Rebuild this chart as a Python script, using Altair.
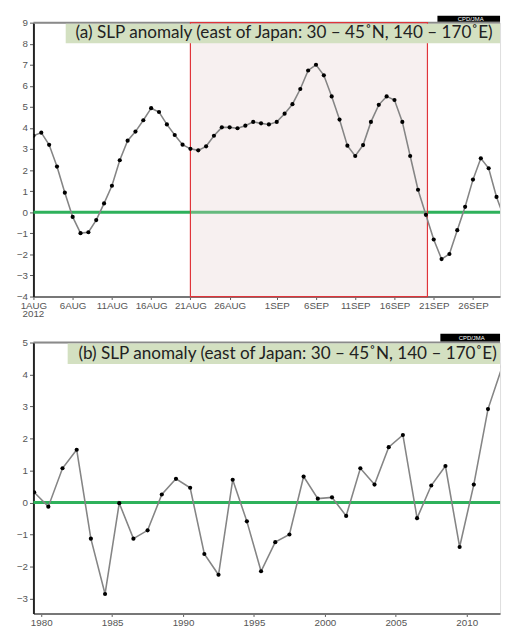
import altair as alt
import pandas as pd

# ---------------- data: panel (a) daily SLP anomaly, 1 Aug 2012 onward ----------------
day_index = list(range(61))  # days since 1 Aug 2012
slp_daily = [3.63, 3.78, 3.2, 2.17, 0.93, -0.22, -0.99, -0.95, -0.37, 0.42,
             1.26, 2.47, 3.40, 3.83, 4.37, 4.94, 4.76, 4.17, 3.67, 3.21,
             3.01, 2.94, 3.13, 3.63, 4.03, 4.03, 3.99, 4.11, 4.29, 4.22,
             4.17, 4.29, 4.68, 5.13, 5.85, 6.73, 7.0, 6.5, 5.5, 4.4,
             3.16, 2.67, 3.19, 4.29, 5.1, 5.5, 5.33, 4.29, 2.67, 1.07,
             -0.12, -1.29, -2.22, -1.98, -0.85, 0.26, 1.55, 2.56, 2.09, 0.73, -0.3]
tick_days = [0, 5, 10, 15, 20, 25, 31, 36, 41, 46, 51, 56]
tick_labels = ["1AUG", "6AUG", "11AUG", "16AUG", "21AUG", "26AUG",
               "1SEP", "6SEP", "11SEP", "16SEP", "21SEP", "26SEP"]
period_start = [20]
period_end = [50.2]

# ---------------- data: panel (b) yearly SLP anomaly ----------------
years = list(range(1979, 2013))
slp_annual = [0.32, -0.13, 1.07, 1.65, -1.13, -2.86, -0.02, -1.13, -0.87, 0.25,
              0.74, 0.46, -1.61, -2.26, 0.71, -0.59, -2.15, -1.24, -1.0, 0.81,
              0.12, 0.16, -0.42, 1.07, 0.56, 1.73, 2.11, -0.49, 0.53, 1.14,
              -1.39, 0.56, 2.92, 4.24]
year_ticks = [1980, 1985, 1990, 1995, 2000, 2005, 2010]

title_a = "(a) SLP anomaly (east of Japan: 30 – 45˚N, 140 – 170˚E)"
title_b = "(b) SLP anomaly (east of Japan: 30 – 45˚N, 140 – 170˚E)"
credit = "CPD/JMA"

df_a = pd.DataFrame({"day": day_index, "slp": slp_daily})
df_b = pd.DataFrame({"year": years, "slp": slp_annual})
df_box = pd.DataFrame({"day": period_start, "day2": period_end})

W = 477
H_A = 280
H_B = 277
LABEL_FONT = "Liberation Sans"
TITLE_FONT = "Lato"
GREEN = "#2eb15b"
LINE_GRAY = "#858585"

one = alt.Data(values=[{"a": 1}])

label_expr = ("[" + ",".join(f"'{l}'" for l in tick_labels) + "][indexof(["
              + ",".join(str(d) for d in tick_days) + "], datum.value)]")

axis_common = dict(labelFont=LABEL_FONT, labelFontSize=10, labelColor="#555",
                   tickColor="#555", grid=False, title=None, labelOverlap=False)

# ---------------- panel (a) ----------------
sx_a = alt.Scale(domain=[0, 59.45], nice=False, zero=False)
sy_a = alt.Scale(domain=[-4, 9], nice=False, zero=False)
ax_xa = alt.Axis(values=tick_days, labelExpr=label_expr, tickSize=3,
                 labelPadding=1, domainColor="#777", domainWidth=2,
                 labelFlush=False, **axis_common)
ax_ya = alt.Axis(values=list(range(-4, 10)), format="d", tickSize=4,
                 labelPadding=2, domainColor="#222", domainWidth=2,
                 minExtent=25, maxExtent=25, **axis_common)
xa = alt.X("day:Q", scale=sx_a, axis=ax_xa)
ya = alt.Y("slp:Q", scale=sy_a, axis=ax_ya)

top_border_a = alt.Chart(one).mark_rule(color="#8a8a8a", strokeWidth=2).encode(
    x=alt.value(0), x2=alt.value(W), y=alt.value(0))
zero_a = alt.Chart(one).mark_rule(color=GREEN, strokeWidth=3).encode(
    y=alt.Y(datum=0, type="quantitative", scale=sy_a, axis=ax_ya))
box_a = alt.Chart(df_box).mark_rect(fill="#e6cccc", fillOpacity=0.3,
                                    stroke="#e0343a", strokeWidth=1.2).encode(
    x=xa, x2="day2:Q", y=alt.value(0), y2=alt.value(H_A))
line_a = alt.Chart(df_a).mark_line(color=LINE_GRAY, strokeWidth=1.6, clip=True).encode(x=xa, y=ya)
pts_a = alt.Chart(df_a).mark_circle(color="black", size=18, opacity=1, clip=True).encode(x=xa, y=ya)
tbox_a = alt.Chart(one).mark_rect(fill="#d3e0c1").encode(
    x=alt.value(33), x2=alt.value(W), y=alt.value(1), y2=alt.value(21))
ttext_a = alt.Chart(one).mark_text(text=title_a, font=TITLE_FONT, fontSize=17.5, color="#222",
                                   align="left", baseline="middle").encode(
    x=alt.value(43), y=alt.value(11))
cbox_a = alt.Chart(one).mark_rect(fill="black").encode(
    x=alt.value(413), x2=alt.value(W), y=alt.value(-7), y2=alt.value(-1))
ctext_a = alt.Chart(one).mark_text(text=credit, font=LABEL_FONT, fontSize=6, color="white",
                                   align="center", baseline="middle").encode(
    x=alt.value(447), y=alt.value(-4))
year_lbl = alt.Chart(one).mark_text(text="2012", font=LABEL_FONT, fontSize=10, color="#555",
                                    align="center", baseline="middle").encode(
    x=alt.value(0), y=alt.value(H_A + 18))

panel_a = alt.layer(top_border_a, zero_a, box_a, line_a, pts_a, tbox_a, ttext_a,
                    cbox_a, ctext_a, year_lbl).properties(width=W, height=H_A)

# ---------------- panel (b) ----------------
sx_b = alt.Scale(domain=[1979.45, 2012.35], nice=False, zero=False)
sy_b = alt.Scale(domain=[-3.47, 5], nice=False, zero=False)
ax_xb = alt.Axis(values=year_ticks, format="d", tickSize=3, labelPadding=1,
                 domainColor="#777", domainWidth=2, **axis_common)
ax_yb = alt.Axis(values=list(range(-3, 6)), format="d", tickSize=4,
                 labelPadding=2, domainColor="#222", domainWidth=2,
                 minExtent=25, maxExtent=25, **axis_common)
xb = alt.X("xpos:Q", scale=sx_b, axis=ax_xb)
yb = alt.Y("slp:Q", scale=sy_b, axis=ax_yb)

base_b = alt.Chart(df_b).transform_calculate(xpos="datum.year + 0.5")
top_border_b = alt.Chart(one).mark_rule(color="#8a8a8a", strokeWidth=2).encode(
    x=alt.value(0), x2=alt.value(W), y=alt.value(0))
zero_b = alt.Chart(one).mark_rule(color=GREEN, strokeWidth=3).encode(
    y=alt.Y(datum=0, type="quantitative", scale=sy_b, axis=ax_yb))
line_b = base_b.mark_line(color=LINE_GRAY, strokeWidth=1.6, clip=True).encode(x=xb, y=yb)
pts_b = base_b.mark_circle(color="black", size=18, opacity=1, clip=True).encode(x=xb, y=yb)
tbox_b = alt.Chart(one).mark_rect(fill="#d3e0c1").encode(
    x=alt.value(35), x2=alt.value(W), y=alt.value(1), y2=alt.value(22))
ttext_b = alt.Chart(one).mark_text(text=title_b, font=TITLE_FONT, fontSize=17.5, color="#222",
                                   align="left", baseline="middle").encode(
    x=alt.value(46), y=alt.value(12))
cbox_b = alt.Chart(one).mark_rect(fill="black").encode(
    x=alt.value(416), x2=alt.value(W), y=alt.value(-9), y2=alt.value(-1))
ctext_b = alt.Chart(one).mark_text(text=credit, font=LABEL_FONT, fontSize=6, color="white",
                                   align="center", baseline="middle").encode(
    x=alt.value(448), y=alt.value(-5))

panel_b = alt.layer(top_border_b, zero_b, line_b, pts_b, tbox_b, ttext_b,
                    cbox_b, ctext_b).properties(width=W, height=H_B)

chart = alt.vconcat(panel_a, panel_b, spacing=13).properties(
    padding={"left": 0, "top": 0, "right": 0, "bottom": 0}
).configure_view(stroke=None).configure(background="white")

chart.save("out.html", embed_options={"renderer": "svg", "actions": False})
